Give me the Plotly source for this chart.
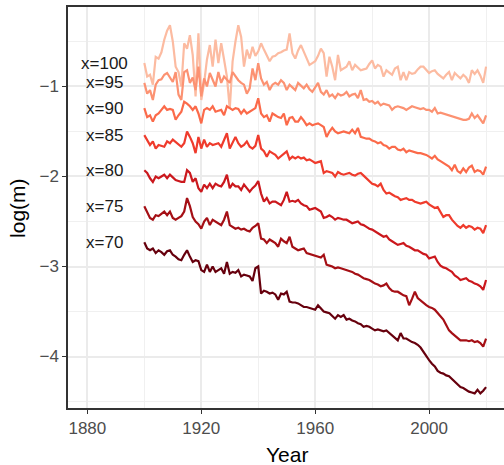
import plotly.graph_objects as go

years = list(range(1900, 2021))

m100 = [-0.74, -0.89, -0.87, -0.98, -0.67, -0.69, -0.62, -0.48, -0.38, -0.32,
        -0.50, -0.78, -0.84, -1.00, -0.52, -0.58, -0.43, -0.65, -1.11, -0.41,
        -1.15, -0.96, -0.70, -0.54, -0.78, -0.48, -0.74, -0.52, -0.70, -0.89,
        -1.25, -0.72, -0.50, -0.32, -0.45, -0.78, -0.59, -0.69, -0.56, -0.66,
        -0.61, -0.52, -0.59, -0.66, -0.72, -0.67, -0.66, -0.63, -0.62, -0.60,
        -0.59, -0.41, -0.63, -0.69, -0.60, -0.54, -0.62, -0.69, -0.76, -0.74,
        -0.72, -0.66, -0.58, -0.63, -0.89, -0.67, -0.78, -0.93, -0.65, -0.82,
        -0.80, -0.78, -0.72, -0.82, -0.76, -0.79, -0.82, -0.81, -0.80, -0.75,
        -0.71, -0.80, -0.76, -0.78, -0.89, -0.82, -0.85, -0.87, -0.80, -0.78,
        -0.93, -0.84, -0.93, -0.84, -0.86, -0.85, -0.81, -0.78, -0.78, -0.82,
        -0.85, -0.83, -0.82, -0.86, -0.89, -0.91, -0.87, -0.84, -0.93, -0.85,
        -0.88, -0.91, -0.87, -0.90, -0.96, -0.82, -0.86, -0.82, -0.88, -0.96,
        -0.78]

m95 = [-0.96, -1.08, -1.04, -1.15, -0.98, -0.93, -0.92, -0.87, -0.85, -0.90,
       -0.95, -0.84, -1.09, -1.15, -0.84, -0.82, -0.96, -0.90, -1.04, -0.78,
       -1.11, -0.91, -1.00, -0.85, -0.93, -1.00, -0.84, -0.96, -0.89, -0.93,
       -0.96, -0.84, -0.89, -0.93, -0.96, -0.98, -1.08, -1.02, -0.80, -0.93,
       -0.74, -0.91, -0.98, -0.95, -1.04, -0.98, -0.96, -0.98, -0.93, -0.96,
       -1.04, -0.98, -1.01, -1.04, -0.96, -0.99, -1.02, -0.98, -1.03, -1.06,
       -1.01, -0.96, -1.06, -1.09, -1.04, -1.11, -1.09, -1.13, -1.08, -1.10,
       -1.09, -1.06, -1.11, -1.09, -1.08, -1.13, -1.04, -1.15, -1.14, -1.17,
       -1.16, -1.19, -1.17, -1.21, -1.19, -1.20, -1.21, -1.26, -1.23, -1.22,
       -1.23, -1.24, -1.26, -1.24, -1.22, -1.23, -1.24, -1.25, -1.24, -1.26,
       -1.26, -1.28, -1.24, -1.30, -1.29, -1.30, -1.31, -1.32, -1.33, -1.34,
       -1.35, -1.36, -1.37, -1.37, -1.36, -1.30, -1.35, -1.32, -1.36, -1.41,
       -1.32]

m90 = [-1.24, -1.34, -1.32, -1.39, -1.32, -1.30, -1.26, -1.22, -1.26, -1.25,
       -1.26, -1.37, -1.32, -1.28, -1.17, -1.19, -1.22, -1.26, -1.22, -1.30,
       -1.41, -1.26, -1.24, -1.26, -1.22, -1.28, -1.27, -1.26, -1.32, -1.22,
       -1.24, -1.26, -1.24, -1.25, -1.30, -1.26, -1.30, -1.28, -1.26, -1.24,
       -1.13, -1.30, -1.34, -1.32, -1.39, -1.30, -1.32, -1.34, -1.35, -1.30,
       -1.43, -1.35, -1.34, -1.39, -1.39, -1.34, -1.38, -1.43, -1.41, -1.43,
       -1.42, -1.41, -1.43, -1.45, -1.56, -1.50, -1.46, -1.50, -1.52, -1.51,
       -1.50, -1.51, -1.52, -1.48, -1.52, -1.46, -1.56, -1.57, -1.58, -1.58,
       -1.60, -1.61, -1.63, -1.62, -1.65, -1.66, -1.69, -1.67, -1.67, -1.70,
       -1.71, -1.69, -1.73, -1.71, -1.72, -1.73, -1.74, -1.74, -1.75, -1.76,
       -1.78, -1.80, -1.77, -1.81, -1.83, -1.85, -1.87, -1.89, -1.93, -1.87,
       -1.94, -1.96, -1.91, -1.95, -1.90, -1.88, -1.95, -1.93, -1.94, -1.98,
       -1.89]

m85 = [-1.54, -1.59, -1.65, -1.61, -1.69, -1.65, -1.66, -1.67, -1.61, -1.63,
       -1.59, -1.62, -1.65, -1.67, -1.63, -1.50, -1.56, -1.63, -1.74, -1.56,
       -1.69, -1.59, -1.67, -1.63, -1.65, -1.64, -1.63, -1.67, -1.59, -1.52,
       -1.69, -1.63, -1.56, -1.63, -1.67, -1.65, -1.61, -1.67, -1.69, -1.66,
       -1.54, -1.69, -1.72, -1.78, -1.72, -1.74, -1.76, -1.80, -1.77, -1.74,
       -1.72, -1.81, -1.78, -1.80, -1.78, -1.80, -1.79, -1.82, -1.81, -1.83,
       -1.85, -1.84, -1.83, -1.96, -1.94, -1.95, -1.96, -2.00, -1.95, -1.97,
       -1.98, -1.97, -1.96, -1.98, -1.99, -1.97, -1.96, -1.99, -2.02, -2.04,
       -2.08, -2.09, -2.11, -2.08, -2.15, -2.19, -2.18, -2.20, -2.22, -2.23,
       -2.26, -2.25, -2.24, -2.26, -2.26, -2.28, -2.29, -2.30, -2.29, -2.28,
       -2.31, -2.33, -2.35, -2.34, -2.39, -2.45, -2.43, -2.43, -2.48, -2.52,
       -2.55, -2.57, -2.54, -2.57, -2.55, -2.56, -2.59, -2.57, -2.58, -2.63,
       -2.54]

m80 = [-1.93, -1.96, -2.02, -2.06, -2.00, -2.02, -2.00, -1.98, -2.02, -1.98,
       -2.01, -2.04, -2.05, -2.06, -2.06, -1.93, -1.96, -2.06, -2.02, -2.13,
       -2.17, -2.09, -2.13, -2.08, -2.13, -2.08, -2.10, -2.11, -2.06, -1.98,
       -2.13, -2.08, -2.11, -2.11, -2.15, -2.09, -2.13, -2.17, -2.13, -2.10,
       -2.05, -2.19, -2.28, -2.24, -2.30, -2.28, -2.28, -2.30, -2.32, -2.26,
       -2.17, -2.28, -2.27, -2.28, -2.26, -2.30, -2.32, -2.33, -2.37, -2.36,
       -2.35, -2.37, -2.39, -2.46, -2.45, -2.43, -2.45, -2.48, -2.46, -2.47,
       -2.48, -2.48, -2.50, -2.52, -2.51, -2.50, -2.53, -2.54, -2.56, -2.58,
       -2.59, -2.61, -2.63, -2.65, -2.67, -2.66, -2.70, -2.72, -2.74, -2.76,
       -2.75, -2.74, -2.77, -2.78, -2.80, -2.82, -2.82, -2.84, -2.86, -2.87,
       -2.91, -2.90, -2.89, -2.95, -2.99, -3.01, -3.02, -3.04, -3.06, -3.10,
       -3.12, -3.15, -3.14, -3.13, -3.16, -3.17, -3.19, -3.20, -3.22, -3.26,
       -3.15]

m75 = [-2.33, -2.39, -2.46, -2.48, -2.43, -2.44, -2.41, -2.39, -2.43, -2.39,
       -2.46, -2.48, -2.46, -2.44, -2.39, -2.24, -2.33, -2.45, -2.50, -2.53,
       -2.58, -2.50, -2.46, -2.54, -2.48, -2.50, -2.52, -2.54, -2.48, -2.39,
       -2.54, -2.56, -2.58, -2.57, -2.59, -2.58, -2.60, -2.61, -2.57, -2.55,
       -2.52, -2.69, -2.70, -2.74, -2.70, -2.72, -2.74, -2.78, -2.69, -2.72,
       -2.74, -2.67, -2.78, -2.80, -2.82, -2.81, -2.80, -2.85, -2.86, -2.87,
       -2.88, -2.89, -2.90, -2.87, -2.98, -2.99, -3.00, -3.02, -3.01, -3.02,
       -3.03, -3.04, -3.05, -3.06, -3.08, -3.09, -3.11, -3.13, -3.14, -3.15,
       -3.17, -3.19, -3.20, -3.22, -3.21, -3.19, -3.24, -3.27, -3.28, -3.28,
       -3.30, -3.32, -3.33, -3.43, -3.36, -3.28, -3.35, -3.38, -3.41, -3.43,
       -3.45, -3.46, -3.48, -3.52, -3.56, -3.59, -3.65, -3.71, -3.74, -3.77,
       -3.79, -3.82, -3.82, -3.82, -3.83, -3.82, -3.84, -3.83, -3.85, -3.89,
       -3.80]

m70 = [-2.73, -2.80, -2.82, -2.80, -2.85, -2.82, -2.84, -2.87, -2.83, -2.82,
       -2.87, -2.89, -2.92, -2.93, -2.87, -2.82, -2.89, -2.95, -2.93, -2.94,
       -3.04, -3.06, -2.98, -3.06, -3.00, -3.06, -3.04, -3.02, -3.08, -2.95,
       -3.08, -3.06, -3.07, -3.04, -3.11, -3.09, -3.10, -3.11, -3.16, -3.02,
       -3.00, -3.30, -3.27, -3.28, -3.30, -3.29, -3.31, -3.37, -3.30, -3.31,
       -3.28, -3.39, -3.40, -3.40, -3.41, -3.43, -3.45, -3.45, -3.46, -3.47,
       -3.48, -3.43, -3.47, -3.50, -3.51, -3.52, -3.55, -3.58, -3.54, -3.56,
       -3.54, -3.59, -3.58, -3.60, -3.61, -3.63, -3.64, -3.67, -3.66, -3.67,
       -3.69, -3.71, -3.70, -3.71, -3.72, -3.71, -3.74, -3.76, -3.79, -3.82,
       -3.74, -3.80, -3.80, -3.82, -3.84, -3.85, -3.87, -3.90, -3.95, -3.99,
       -4.04, -4.08, -4.11, -4.16, -4.18, -4.19, -4.21, -4.22, -4.25, -4.28,
       -4.32, -4.34, -4.35, -4.37, -4.39, -4.40, -4.41, -4.37, -4.41, -4.38,
       -4.34]

labels = ["x=100", "x=95", "x=90", "x=85", "x=80", "x=75", "x=70"]
series = [m100, m95, m90, m85, m80, m75, m70]
colors = ["#FCBBA1", "#FC9272", "#FB6A4A", "#EF3B2C", "#CB181D", "#A50F15", "#67000D"]

x_ticks = [1880, 1920, 1960, 2000]
y_ticks = [-4, -3, -2, -1]
label_year = 1886

FONT = "Liberation Sans, Arial, sans-serif"

fig = go.Figure()
for name, vals, col in zip(labels, series, colors):
    fig.add_trace(go.Scatter(x=years, y=vals, mode="lines", name=name,
                             line=dict(color=col, width=2.2), showlegend=False))
    fig.add_annotation(x=label_year, y=vals[0], text=name, showarrow=False,
                       xref="x", yref="y", xanchor="center", yanchor="middle",
                       font=dict(family=FONT, size=17, color="#1a1a1a"))

# axis titles placed as paper annotations
fig.add_annotation(text="Year", xref="paper", yref="paper", x=0.503, y=-0.082,
                   xanchor="center", yanchor="top", showarrow=False,
                   font=dict(size=21, color="#000000", family=FONT))
fig.add_annotation(text="log(m)", xref="paper", yref="paper", x=-0.116, y=0.5,
                   xanchor="center", yanchor="middle", textangle=-90, showarrow=False,
                   font=dict(size=21, color="#000000", family=FONT))

fig.update_layout(
    width=504, height=465,
    margin=dict(l=68, r=0, t=7, b=57),
    paper_bgcolor="white", plot_bgcolor="white",
    font=dict(family=FONT),
)
fig.update_xaxes(
    range=[1873.2, 2026.3], tickvals=x_ticks, ticks="outside", ticklen=4,
    tickwidth=1.3, tickcolor="#333333", automargin=False,
    tickfont=dict(size=17, color="#4D4D4D", family=FONT),
    showgrid=True, gridcolor="#EBEBEB", gridwidth=2.2,
    minor=dict(tickvals=[1900, 1940, 1980, 2020], showgrid=True, gridcolor="#F0F0F0", gridwidth=1.1),
    showline=True, linecolor="#333333", linewidth=1.5, mirror=True,
    zeroline=False,
)
fig.update_yaxes(
    range=[-4.572, -0.117], tickvals=y_ticks, ticks="outside", ticklen=4,
    tickwidth=1.3, tickcolor="#333333", automargin=False,
    tickfont=dict(size=17, color="#4D4D4D", family=FONT),
    showgrid=True, gridcolor="#EBEBEB", gridwidth=2.2,
    minor=dict(tickvals=[-4.5, -3.5, -2.5, -1.5, -0.5], showgrid=True, gridcolor="#F0F0F0", gridwidth=1.1),
    showline=True, linecolor="#333333", linewidth=1.5, mirror=False,
    zeroline=False,
)

fig.write_html("out.html", config={"displayModeBar": False},
               post_script="document.body.style.margin='0';document.body.style.overflow='hidden';")
